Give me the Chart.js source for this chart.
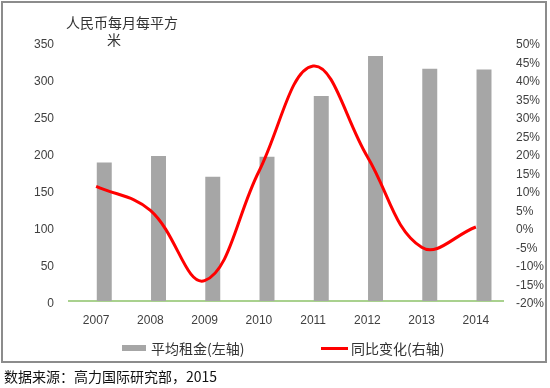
<!DOCTYPE html>
<html>
<head>
<meta charset="utf-8">
<script src="https://cdn.jsdelivr.net/npm/chart.js@4/dist/chart.umd.min.js"></script>
<style>
  body { margin: 0; background: #fff; }
  #frame { position: absolute; left: 1px; top: 1px; width: 546px; height: 362px; box-sizing: border-box; border: 2px solid #8c8c8c; }
  #chart { position: absolute; left: 0; top: 0; }
  .cjk { font-family: "Noto Sans CJK SC", sans-serif; color: #333; position: absolute; white-space: nowrap; }
  #unit { left: 66px; top: 14px; font-size: 14px; line-height: 16px; }
  #unit2 { left: 107px; top: 31px; font-size: 14px; line-height: 16px; }
  .legend { top: 338px; font-size: 14px; line-height: 20px; display: flex; align-items: center; }
  .swatch-bar { width: 24px; height: 6px; background: #a6a6a6; margin-right: 5px; }
  .swatch-line { width: 27px; height: 3px; background: #ff0000; margin-right: 3px; }
  #source { left: 4px; top: 366px; font-size: 14px; line-height: 20px; color: #111; }
</style>
</head>
<body>
<div id="frame"></div>
<canvas id="chart" width="550" height="388"></canvas>
<div class="cjk" id="unit">人民币每月每平方</div>
<div class="cjk" id="unit2">米</div>
<div class="cjk legend" style="left:122px"><span class="swatch-bar"></span>平均租金(左轴)</div>
<div class="cjk legend" style="left:321px"><span class="swatch-line"></span>同比变化(右轴)</div>
<div class="cjk" id="source">数据来源：高力国际研究部，2015</div>

<script>
// === dados ===
const years = ['2007', '2008', '2009', '2010', '2011', '2012', '2013', '2014'];
const avgRent = [187, 196, 168, 195, 277, 331, 314, 313];      // 元/月/平方米
const yoyChange = [11, 4.5, -14.5, 15, 43.5, 19, -5.5, 0];      // %

const tickFont = { family: 'Liberation Sans', size: 12 };
const tickColor = '#404040';

const ctx = document.getElementById('chart').getContext('2d');
new Chart(ctx, {
  data: {
    labels: years,
    datasets: [
      {
        type: 'line',
        label: '同比变化(右轴)',
        data: yoyChange,
        yAxisID: 'y1',
        borderColor: '#ff0000',
        borderWidth: 3,
        pointRadius: 0,
        tension: 0.4,
        order: 0
      },
      {
        // espaço vazio: empurra as barras para a direita como no original
        type: 'bar',
        label: '',
        data: years.map(() => null),
        yAxisID: 'y',
        order: 1
      },
      {
        type: 'bar',
        label: '平均租金(左轴)',
        data: avgRent,
        yAxisID: 'y',
        backgroundColor: '#a6a6a6',
        borderWidth: 0,
        categoryPercentage: 0.6,
        barPercentage: 0.92,
        order: 1
      }
    ]
  },
  options: {
    responsive: false,
    animation: false,
    layout: { padding: { left: 0, right: 0, top: 42, bottom: 0 } },
    datasets: { bar: { categoryPercentage: 0.6, barPercentage: 0.92 } },
    plugins: { legend: { display: false }, tooltip: { enabled: false } },
    scales: {
      x: {
        grid: { display: false, drawTicks: false },
        border: { display: true, color: '#a9d18e', width: 2 },
        ticks: { font: tickFont, color: tickColor, padding: 12 },
        afterFit: s => { s.height = 87; }
      },
      y: {
        position: 'left',
        min: 0, max: 350,
        grid: { display: false, drawTicks: false },
        border: { display: false },
        ticks: { stepSize: 50, font: tickFont, color: tickColor, padding: 15, labelOffset: 3 },
        afterFit: s => { s.width = 69; }
      },
      y1: {
        position: 'right',
        min: -20, max: 50,
        grid: { display: false, drawTicks: false },
        border: { display: false },
        ticks: { stepSize: 5, font: tickFont, color: tickColor, padding: 13, labelOffset: 3,
                 callback: v => v + '%' },
        afterFit: s => { s.width = 47; }
      }
    }
  }
});
</script>
</body>
</html>
